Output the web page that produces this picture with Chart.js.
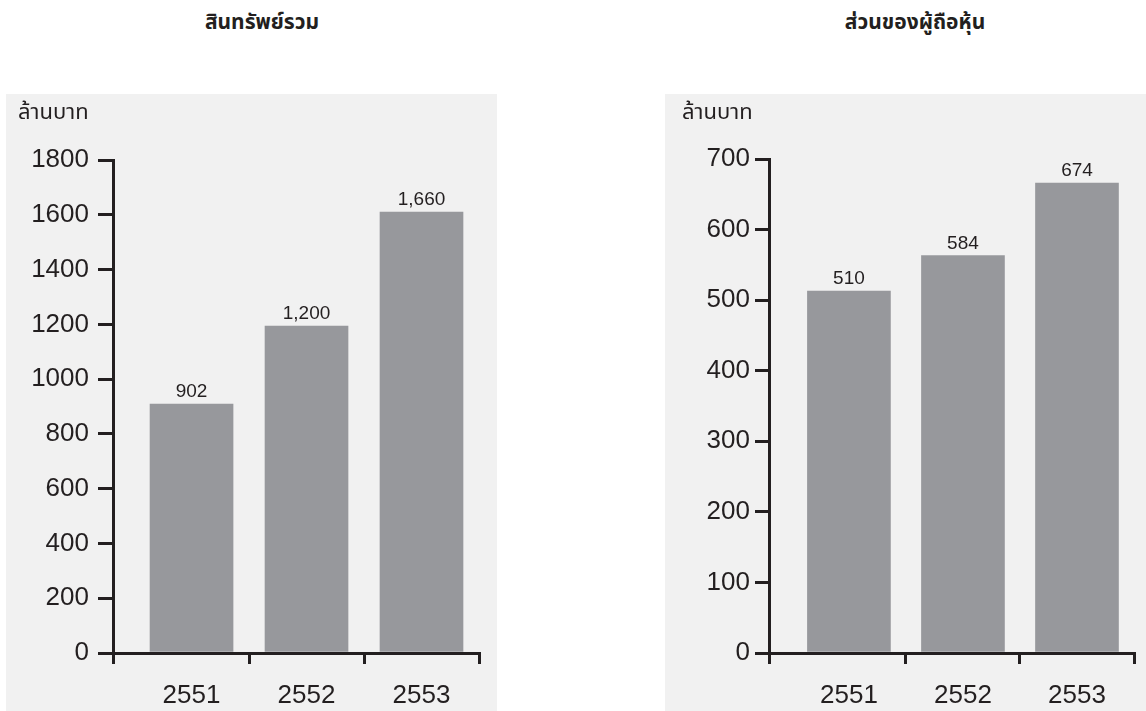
<!DOCTYPE html>
<html>
<head>
<meta charset="utf-8">
<script src="https://cdn.jsdelivr.net/npm/chart.js@4.4.0/dist/chart.umd.min.js"></script>
<style>
  body{margin:0;width:1146px;height:711px;background:#fff;position:relative;overflow:hidden;font-family:"Liberation Sans",Arial,"Noto Sans Thai","Loma","Garuda",sans-serif;color:#231f20}
  .panel{position:absolute;top:94px;height:617px;background:#f1f1f1}
  .panel canvas{position:absolute;left:0;top:0}
  .title{position:absolute;top:9px;line-height:26px;font-weight:bold;font-size:21px;transform:translateX(-50%);white-space:nowrap}
  .unit{position:absolute;top:4px;line-height:28px;font-size:22px;white-space:nowrap}
</style>
</head>
<body>
<div class="title" style="left:262px">สินทรัพย์รวม</div>
<div class="title" style="left:915px">ส่วนของผู้ถือหุ้น</div>
<div class="panel" id="p1" style="left:6px;width:491px">
  <canvas id="c1"></canvas>
  <div class="unit" style="left:12px">ล้านบาท</div>
</div>
<div class="panel" id="p2" style="left:665px;width:481px">
  <canvas id="c2"></canvas>
  <div class="unit" style="left:17px">ล้านบาท</div>
</div>
<script>
// ---- data ----
const years = ['2551', '2552', '2553'];
const assetsBars = [909, 1194, 1610];          // bar heights as drawn in the picture
const assetsLabels = ['902', '1,200', '1,660']; // printed value labels
const assetsMax = 1800;
const assetsStep = 200;
const equityBars = [513, 563, 666];
const equityLabels = ['510', '584', '674'];
const equityMax = 700;
const equityStep = 100;

const INK = '#231f20';
const BAR = '#97989c';

function valueLabelPlugin(labels) {
  return {
    id: 'valueLabels',
    afterDatasetsDraw(chart) {
      const ctx = chart.ctx;
      const meta = chart.getDatasetMeta(0);
      ctx.save();
      ctx.font = '19px "Liberation Sans", Arial, sans-serif';
      ctx.fillStyle = INK;
      ctx.textAlign = 'center';
      ctx.textBaseline = 'alphabetic';
      meta.data.forEach((el, i) => {
        ctx.fillText(labels[i], el.x, el.y - 7);
      });
      ctx.restore();
    }
  };
}

function makeChart(id, panel, bars, labels, cfg) {
  const p = document.getElementById(panel);
  const c = document.getElementById(id);
  c.width = p.clientWidth; c.height = p.clientHeight;
  const font = { family: '"Liberation Sans", Arial, sans-serif', size: 26 };
  return new Chart(c, {
    type: 'bar',
    data: {
      datasets: [{
        data: years.map((y, i) => ({ x: i, y: bars[i] })),
        backgroundColor: BAR,
        borderWidth: 0,
        barThickness: 83
      }]
    },
    options: {
      responsive: false,
      animation: false,
      layout: { padding: { top: cfg.top, right: cfg.right, left: 0, bottom: 0 } },
      plugins: { legend: { display: false }, tooltip: { enabled: false }, title: { display: false } },
      scales: {
        x: {
          type: 'linear',
          offset: false,
          min: cfg.xMin,
          max: years.length - 0.5,
          z: 1,
          afterBuildTicks: s => {
            s.ticks = [{ value: cfg.xMin }].concat(years.map((_, i) => ({ value: i + 0.5 })));
          },
          ticks: {
            callback: (v, i) => (i === 0 ? '' : years[i - 1]),
            labelOffset: cfg.labelOffset,
            font: font,
            color: INK,
            padding: 16,
            maxRotation: 0,
            autoSkip: false
          },
          grid: { display: true, offset: false, drawOnChartArea: false, drawTicks: true, tickLength: 11, tickColor: INK, tickWidth: 3, lineWidth: 3, color: INK },
          border: { display: true, color: INK, width: 3 },
          afterFit: s => { s.height = 58; s.paddingLeft = 0; s.paddingRight = 0; }
        },
        y: {
          min: 0,
          max: cfg.max,
          z: 1,
          ticks: { stepSize: cfg.step, font: font, color: INK, padding: cfg.pad, callback: v => String(v) },
          grid: { drawOnChartArea: false, drawTicks: true, tickLength: cfg.tl, tickColor: INK, tickWidth: 3, lineWidth: 3, color: INK },
          border: { display: true, color: INK, width: 3 },
          afterFit: s => { s.width = cfg.yWidth; }
        }
      }
    },
    plugins: [valueLabelPlugin(labels)]
  });
}

makeChart('c1', 'p1', assetsBars, assetsLabels, {
  max: assetsMax, step: assetsStep, top: 66, right: 18, yWidth: 107,
  xMin: -0.683, labelOffset: -57.5, pad: 9, tl: 15
});
makeChart('c2', 'p2', equityBars, equityLabels, {
  max: equityMax, step: equityStep, top: 65, right: 12, yWidth: 104,
  xMin: -0.701, labelOffset: -57, pad: 5, tl: 14
});
</script>
</body>
</html>
